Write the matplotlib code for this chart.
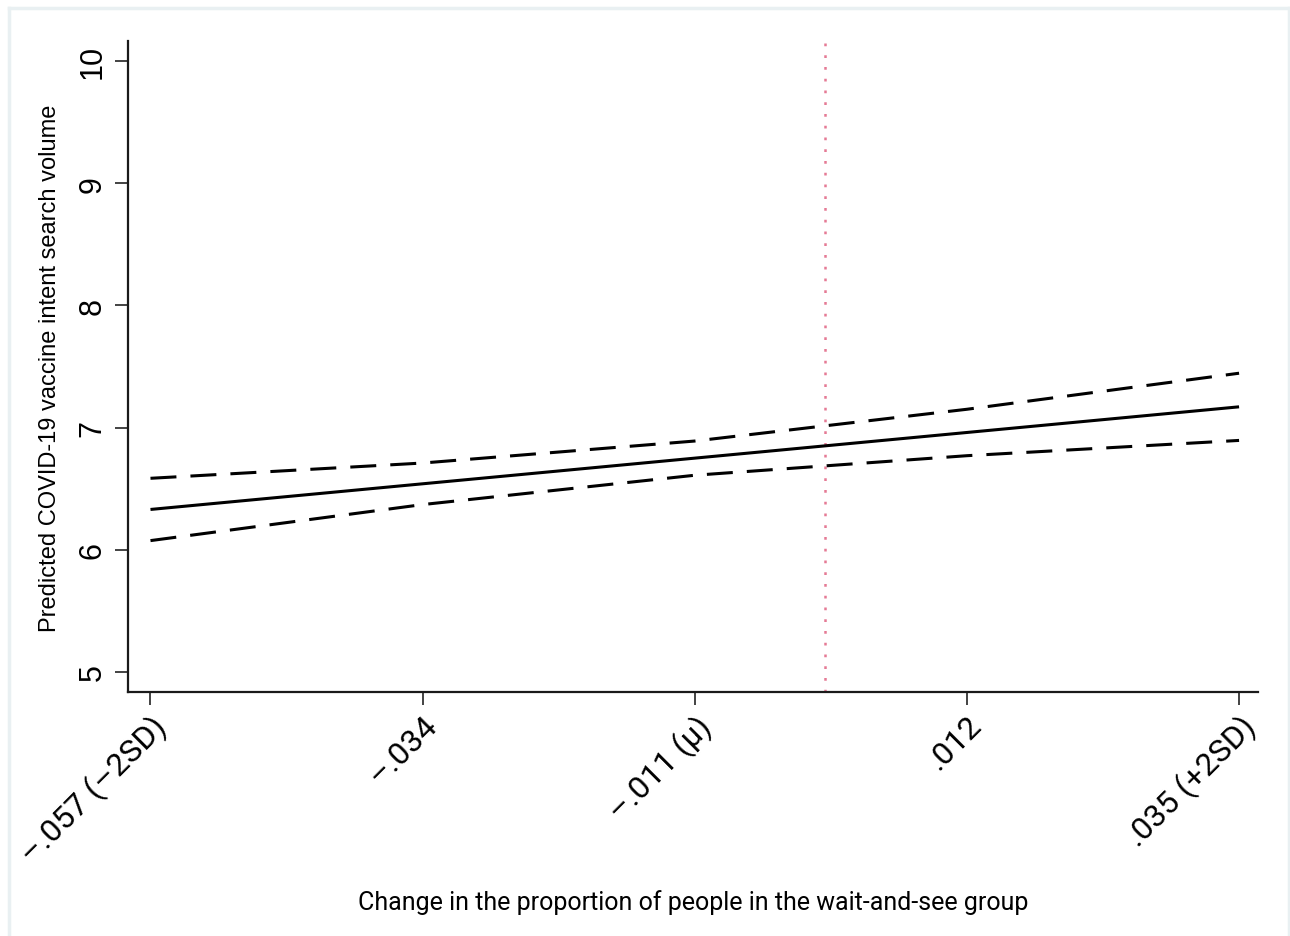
import matplotlib
matplotlib.use("Agg")
import matplotlib.pyplot as plt
from matplotlib.lines import Line2D

# Predicted values with 95% confidence bounds across the wait-and-see change
x_vals = [-0.057, -0.034, -0.011, 0.012, 0.035]
x_labels = ["\u2013.057 (\u20132SD)", "\u2013.034", "\u2013.011 (\u03bc)", ".012", ".035 (+2SD)"]
predicted = [6.33, 6.54, 6.75, 6.96, 7.17]
upper_ci = [6.585, 6.71, 6.89, 7.15, 7.445]
lower_ci = [6.075, 6.37, 6.61, 6.77, 6.895]
y_ticks = [5, 6, 7, 8, 9, 10]
ref_x = 0.0

W, H = 1290, 937
fig = plt.figure(figsize=(W / 100, H / 100), dpi=100)
ax = fig.add_axes([128 / W, 1 - 693 / H, (1258 - 128) / W, (693 - 42) / H])

ax.axvline(ref_x, color="#e57a95", linestyle=(0, (1.1, 3.6)), linewidth=1.8, zorder=1)

ax.plot(x_vals, predicted, color="black", linewidth=2.2, solid_capstyle="butt", zorder=3)
dash = (0, (8.5, 4.6))
ax.plot(x_vals, upper_ci, color="black", linewidth=2.2, linestyle=dash, zorder=3)
ax.plot(x_vals, lower_ci, color="black", linewidth=2.2, linestyle=dash, zorder=3)

ax.set_xlim(-0.0589, 0.0366)
ax.set_ylim(4.836, 10.164)

ax.set_yticks(y_ticks)
ax.set_yticklabels([str(v) for v in y_ticks], rotation=90, va="center",
                   fontsize=22, family="Liberation Sans")
ax.set_xticks(x_vals)
ax.set_xticklabels(x_labels, rotation=45, ha="right", va="top",
                   rotation_mode="anchor", fontsize=23, family="Roboto")

ax.tick_params(axis="both", length=9.5, width=1.2, color="#222222")
ax.tick_params(axis="y", pad=5)
ax.tick_params(axis="x", pad=3)

for side in ("top", "right"):
    ax.spines[side].set_visible(False)
for side in ("left", "bottom"):
    ax.spines[side].set_linewidth(1.6)
    ax.spines[side].set_color("#1a1a1a")

ax.set_ylabel("Predicted COVID-19 vaccine intent search volume",
              fontsize=17, family="Liberation Sans")
ax.yaxis.set_label_coords(-(128 - 61) / (1258 - 128), (693 - 368) / (693 - 42))
ax.set_xlabel("Change in the proportion of people in the wait-and-see group",
              fontsize=18, family="Roboto")
ax.xaxis.set_label_coords((693 - 128) / (1258 - 128), -(890 - 693) / (693 - 42))

# light outer frame around the figure
frame_kw = dict(color="#e9f0f2", linewidth=2.5, transform=fig.transFigure)
fig.add_artist(Line2D([8.5 / W, 8.5 / W], [0, 1 - 9 / H], **frame_kw))
fig.add_artist(Line2D([8.5 / W, 1], [1 - 9 / H, 1 - 9 / H], **frame_kw))
fig.add_artist(Line2D([1288.5 / W, 1288.5 / W], [0, 1 - 9 / H], **frame_kw))

fig.savefig("out.png", dpi=100, facecolor="white")
